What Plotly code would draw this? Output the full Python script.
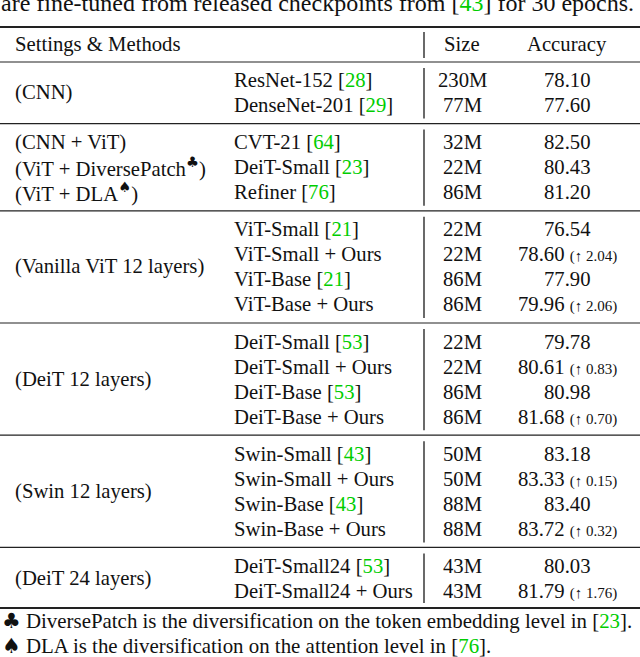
import plotly.graph_objects as go
import re

# ---------------- data ----------------
caption = "are fine-tuned from released checkpoints from [43] for 30 epochs."
header = ["Settings & Methods", "Size", "Accuracy"]
group_sizes = [2, 3, 4, 4, 4, 2]
group_settings = [
    ["(CNN)"],
    ["(CNN + ViT)", "(ViT + DiversePatch<sup>♣</sup>)", "(ViT + DLA<sup>♠</sup>)"],
    ["(Vanilla ViT 12 layers)"],
    ["(DeiT 12 layers)"],
    ["(Swin 12 layers)"],
    ["(DeiT 24 layers)"],
]
methods = ["ResNet-152", "DenseNet-201", "CVT-21", "DeiT-Small", "Refiner",
           "ViT-Small", "ViT-Small + Ours", "ViT-Base", "ViT-Base + Ours",
           "DeiT-Small", "DeiT-Small + Ours", "DeiT-Base", "DeiT-Base + Ours",
           "Swin-Small", "Swin-Small + Ours", "Swin-Base", "Swin-Base + Ours",
           "DeiT-Small24", "DeiT-Small24 + Ours"]
cites = ["28", "29", "64", "23", "76", "21", "", "21", "", "53", "", "53", "",
         "43", "", "43", "", "53", ""]
sizes = ["230M", "77M", "32M", "22M", "86M", "22M", "22M", "86M", "86M",
         "22M", "22M", "86M", "86M", "50M", "50M", "88M", "88M", "43M", "43M"]
accuracy = [78.10, 77.60, 82.50, 80.43, 81.20, 76.54, 78.60, 77.90, 79.96,
            79.78, 80.61, 80.98, 81.68, 83.18, 83.33, 83.40, 83.72, 80.03, 81.79]
gains = [None, None, None, None, None, None, 2.04, None, 2.06, None, 0.83,
         None, 0.70, None, 0.15, None, 0.32, None, 1.76]
footnotes = [
    "♣ DiversePatch is the diversification on the token embedding level in [23].",
    "♠ DLA is the diversification on the attention level in [76].",
]

# ---------------- style / layout ----------------
W, H = 640, 657
FONT = "Liberation Serif, Times New Roman, serif"
FS = 20.7
SMALL = 15
CAP_FS = 24
FOOT_FS = 20.9
GREEN = "rgb(0,205,0)"
INK = "#111111"
RULE = "#222222"

X_SET, X_METH, X_SIZE, X_ACC, X_BAR = 14, 233, 462, 567, 424
Y_TOP_RULE, Y_HEAD, Y_FIRST, PITCH, GAP, Y_BOTTOM = 27, 44, 80, 25, 37.2, 608


def green_cites(s):
    return re.sub(r"\[(\d+)\]",
                  lambda m: "[<span style='color:%s'>%s</span>]" % (GREEN, m.group(1)), s)


def symbols(s):
    return re.sub(r"([♣♠])", r"<span style='font-family:DejaVu Sans'>\1</span>", s)


fig = go.Figure()
fig.add_trace(go.Scatter(x=[0, W], y=[0, H], mode="markers", showlegend=False,
                         marker=dict(size=1, opacity=0), hoverinfo="skip"))

ann = []
shapes = []


def text(x, y, s, anchor="left", size=FS):
    ann.append(dict(x=x, y=y, xref="x", yref="y", text=s, showarrow=False,
                    xanchor=anchor, yanchor="middle", borderpad=0,
                    font=dict(family=FONT, size=size, color=INK)))


def hrule(y, w):
    shapes.append(dict(type="line", xref="x", yref="y", x0=0, x1=W, y0=y, y1=y,
                       line=dict(color=RULE, width=w)))


def vbar(y0, y1):
    shapes.append(dict(type="line", xref="x", yref="y", x0=X_BAR, x1=X_BAR, y0=y0, y1=y1,
                       line=dict(color="#444444", width=1.6)))


# caption (clipped at top)
text(0, 3, green_cites(caption), size=CAP_FS)

# header
hrule(Y_TOP_RULE, 2)
text(X_SET, Y_HEAD, header[0].replace("&", "&amp;"))
text(X_SIZE, Y_HEAD, header[1], "center")
text(X_ACC, Y_HEAD, header[2], "center")
y_head_rule = (Y_HEAD + Y_FIRST) / 2
hrule(y_head_rule, 1.2)
vbar(Y_TOP_RULE + 5, y_head_rule - 4)

# body
i = 0
y = Y_FIRST
prev_rule = y_head_rule
for g, n in enumerate(group_sizes):
    ys = [y + k * PITCH for k in range(n)]
    labels = group_settings[g]
    if len(labels) == 1:
        text(X_SET, (ys[0] + ys[-1]) / 2, symbols(labels[0]))
    else:
        for lab, yy in zip(labels, ys):
            text(X_SET, yy, symbols(lab))
    for yy in ys:
        m = methods[i]
        if cites[i]:
            m += " [%s]" % cites[i]
        text(X_METH, yy, green_cites(m))
        text(X_SIZE, yy, sizes[i], "center")
        a = "%.2f" % accuracy[i]
        if gains[i] is not None:
            a += " <span style='font-size:%dpx'>(↑ %.2f)</span>" % (SMALL, gains[i])
        text(X_ACC, yy, a, "center")
        i += 1
    last = ys[-1]
    if g < len(group_sizes) - 1:
        rule_y = last + GAP / 2
        hrule(rule_y, 1.2)
        vbar(prev_rule + 6, rule_y - 5)
        prev_rule = rule_y
        y = last + GAP
    else:
        hrule(Y_BOTTOM, 2)
        vbar(prev_rule + 6, Y_BOTTOM - 5)

# footnotes
for k, fn in enumerate(footnotes):
    text(1, 621 + k * 25, symbols(green_cites(fn)), size=FOOT_FS)

fig.update_layout(
    width=W, height=H, margin=dict(l=0, r=0, t=0, b=0),
    paper_bgcolor="white", plot_bgcolor="white",
    xaxis=dict(range=[0, W], visible=False, fixedrange=True),
    yaxis=dict(range=[H, 0], visible=False, fixedrange=True),
    annotations=ann, shapes=shapes, showlegend=False,
)
fig.write_html("out.html", config={"displayModeBar": False},
               post_script="document.body.style.margin='0';document.body.style.overflow='hidden';")
